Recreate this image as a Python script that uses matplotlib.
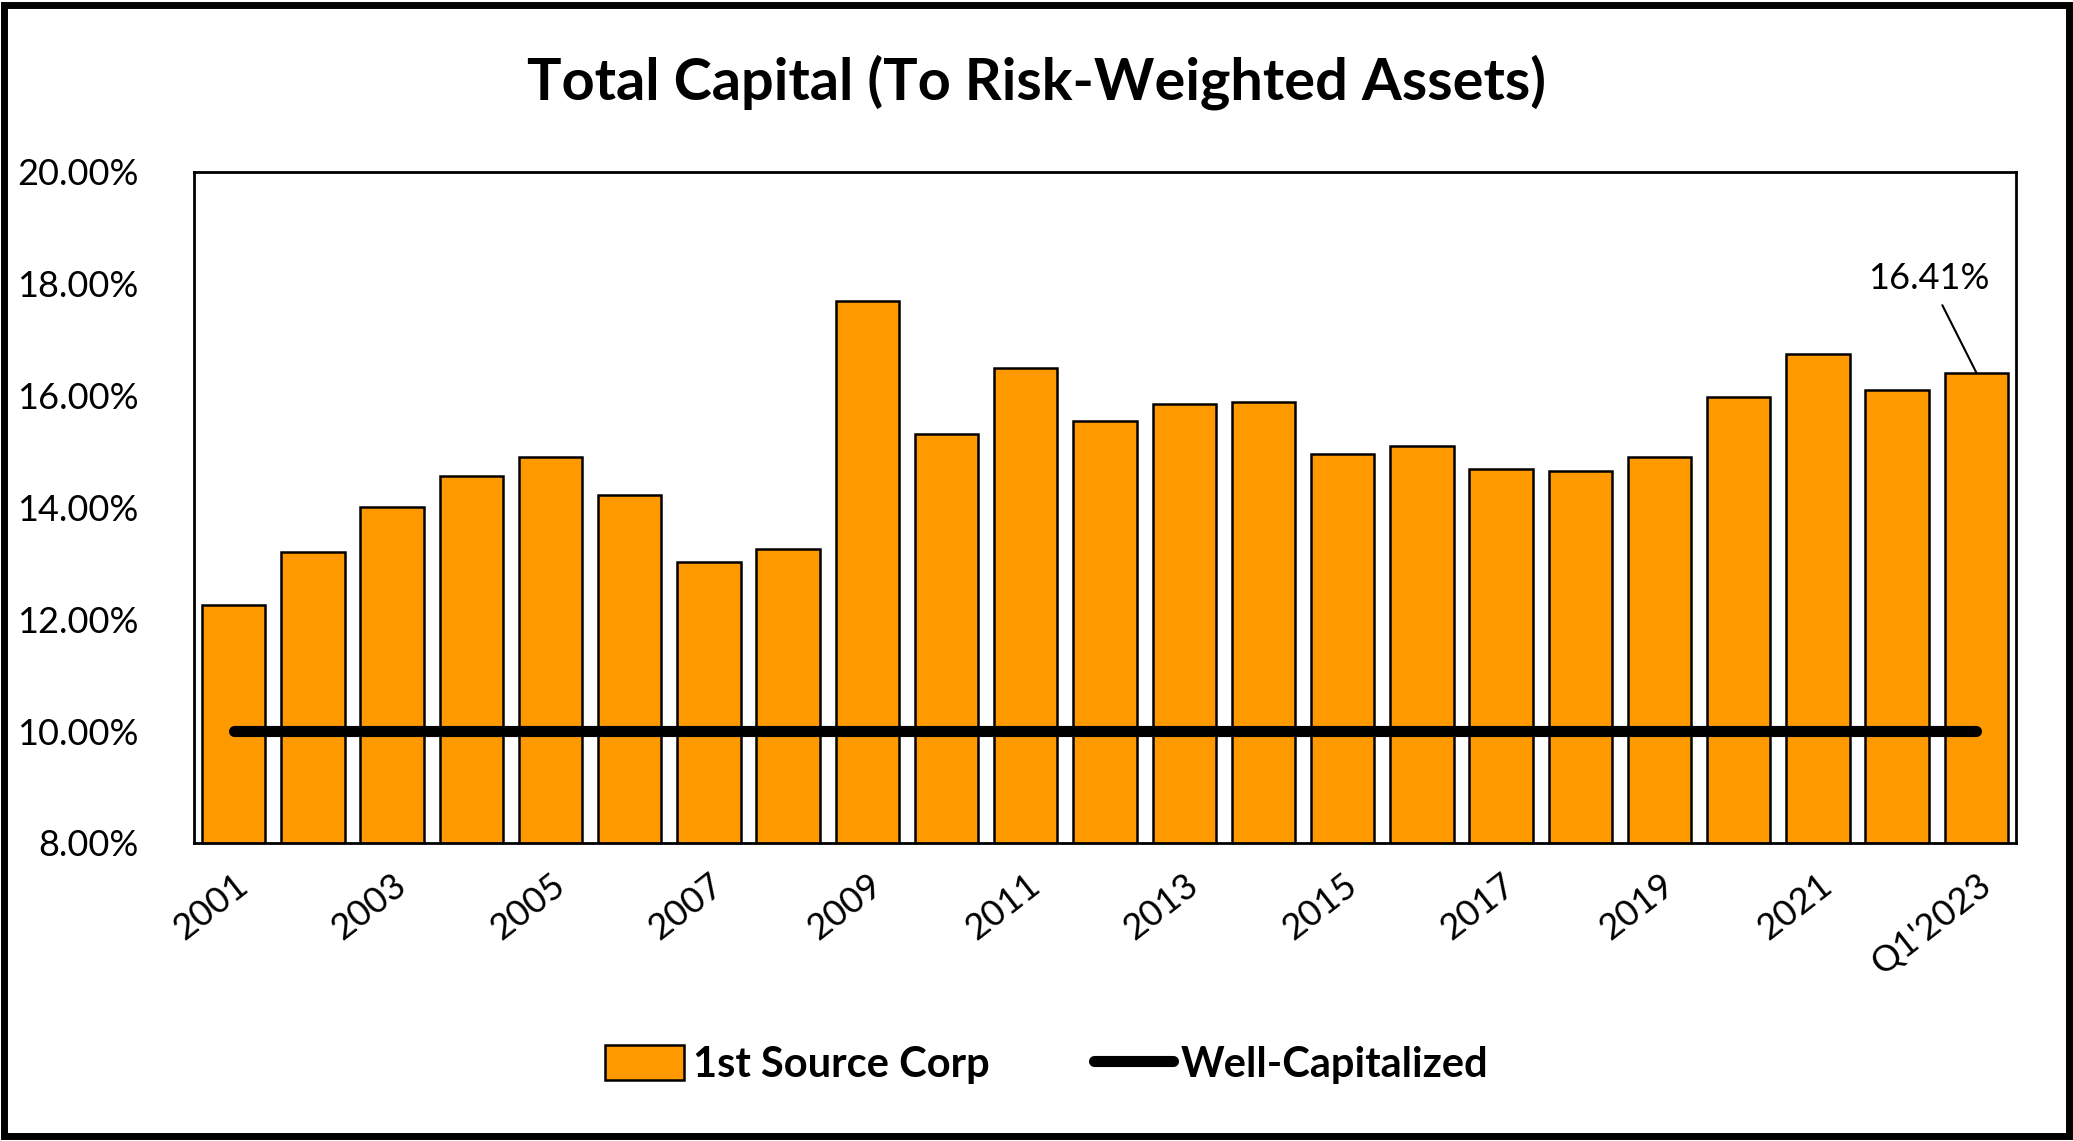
import numpy as np
import matplotlib.pyplot as plt
from matplotlib.patches import Rectangle
from matplotlib.ticker import FuncFormatter

plt.rcParams['font.family'] = ['Lato', 'DejaVu Sans']

# data
years = ['2001', '2002', '2003', '2004', '2005', '2006', '2007', '2008',
         '2009', '2010', '2011', '2012', '2013', '2014', '2015', '2016',
         '2017', '2018', '2019', '2020', '2021', '2022', "Q1'2023"]
total_capital = [12.25, 13.20, 14.00, 14.57, 14.90, 14.22, 13.02, 13.25,
                 17.70, 15.32, 16.50, 15.55, 15.85, 15.88, 14.95, 15.10,
                 14.68, 14.65, 14.90, 15.98, 16.75, 16.10, 16.41]
well_capitalized = [10.0] * len(years)
y_ticks = [8, 10, 12, 14, 16, 18, 20]

orange = '#FF9900'

fig = plt.figure(figsize=(20.73, 11.41), dpi=100)
ax = fig.add_axes([0.0936, 0.2612, 0.8789, 0.5881])

x = np.arange(len(years))
bars = ax.bar(x, total_capital, width=0.8, color=orange, edgecolor='black',
              linewidth=1.8, label='1st Source Corp', zorder=2)
line, = ax.plot(x, well_capitalized, color='black', linewidth=8,
                solid_capstyle='round', label='Well-Capitalized', zorder=3)

ax.set_xlim(-0.5, len(years) - 0.5)
ax.set_ylim(8, 20)
ax.set_yticks(y_ticks)
ax.yaxis.set_major_formatter(FuncFormatter(lambda v, p: f'{v:.2f}%'))
ax.set_xticks(x[::2])
ax.set_xticklabels(years[::2], rotation=38, ha='right',
                   rotation_mode='anchor')
ax.tick_params(axis='both', length=0, labelsize=26)
ax.tick_params(axis='x', pad=18)
ax.tick_params(axis='y', pad=40)
for s in ax.spines.values():
    s.set_linewidth(2)

# label on the last bar
last = len(years) - 1
ax.annotate(f'{total_capital[last]:.2f}%', xy=(x[last], total_capital[last]),
            xytext=(x[last] - 0.6, 17.8), fontsize=26, ha='center',
            va='bottom',
            arrowprops=dict(arrowstyle='-', color='black', lw=1.5,
                            shrinkA=6, shrinkB=0))

fig.text(0.5, 0.928, 'Total Capital (To Risk-Weighted Assets)',
         ha='center', va='center', fontsize=41.5, fontweight='bold')

fig.legend(handles=[bars, line], loc='center', bbox_to_anchor=(0.505, 0.067),
           ncol=2, frameon=False, prop={'size': 30, 'weight': 'bold'},
           handlelength=1.9, handleheight=0.9, handletextpad=0.2,
           columnspacing=2.5)

fig.patches.append(Rectangle((0.002, 0.004), 0.996, 0.992,
                             transform=fig.transFigure, fill=False,
                             edgecolor='black', linewidth=5))

fig.savefig('out.png', dpi=100)
